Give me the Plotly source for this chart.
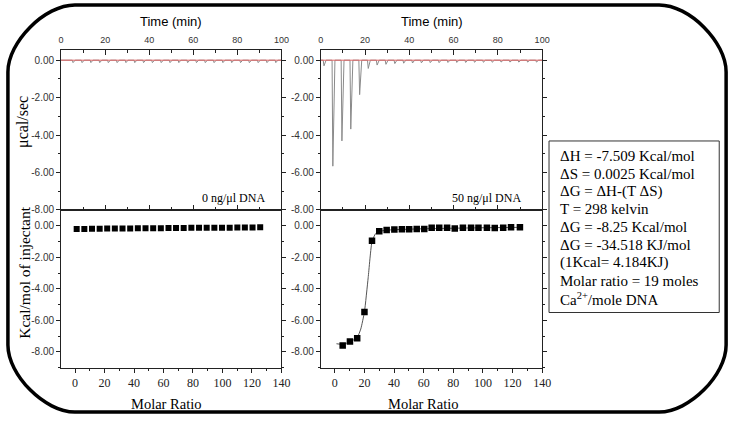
import plotly.graph_objects as go

W, H = 742, 424

# ---------------- data ----------------
inj_time = [1.1, 5.1, 9.2, 13.2, 17.2, 21.1, 25.1, 29.1, 33.1, 37.1, 41.1, 45.1, 49.1,
            53.1, 57.1, 61.1, 65.1, 69.1, 73.1, 77.1, 81.1, 85.1, 89.1, 93.1, 97.1]
peak_0 = [-0.03, -0.13, -0.13, -0.13, -0.13, -0.13, -0.13, -0.13, -0.13, -0.13, -0.13, -0.13, -0.13,
          -0.13, -0.13, -0.13, -0.13, -0.13, -0.13, -0.13, -0.13, -0.13, -0.13, -0.13, -0.13]
peak_50 = [-0.30, -5.66, -4.31, -3.68, -1.84, -0.44, -0.26, -0.22, -0.18, -0.16, -0.15, -0.14, -0.13,
           -0.13, -0.12, -0.12, -0.12, -0.11, -0.11, -0.11, -0.10, -0.10, -0.10, -0.10, -0.10]
baseline_time = [0, 100]
baseline_val = [0, 0]

ratio_0 = [1.1, 6.3, 11.5, 16.7, 21.8, 27.0, 32.2, 37.4, 42.6, 47.8, 53.0, 58.2, 63.4,
           68.5, 73.7, 78.9, 84.1, 89.3, 94.5, 99.7, 104.9, 110.1, 115.2, 120.4, 125.6]
heat_0 = [-0.21, -0.20, -0.19, -0.19, -0.18, -0.18, -0.17, -0.17, -0.16, -0.16, -0.15, -0.15, -0.14,
          -0.14, -0.14, -0.13, -0.13, -0.13, -0.12, -0.12, -0.12, -0.11, -0.11, -0.11, -0.10]

ratio_50 = [5.3, 10.2, 15.1, 20.0, 25.1, 30.0, 35.0, 40.2, 45.3, 50.2, 55.3, 60.4,
            65.4, 70.5, 75.8, 81.0, 86.5, 92.0, 97.0, 102.7, 108.0, 113.7, 119.0, 125.0]
heat_50 = [-7.59, -7.34, -7.13, -5.46, -0.95, -0.35, -0.27, -0.24, -0.22, -0.22, -0.20, -0.20,
           -0.12, -0.12, -0.12, -0.18, -0.12, -0.12, -0.12, -0.12, -0.14, -0.12, -0.10, -0.10]

fit_x = [1.1, 5.3, 10.2, 15.1, 17.5, 20.0, 22.5, 25.1, 27.5, 30.0, 35.0, 40.2, 60.0, 90.0, 125.0]
fit_y = [-7.48, -7.52, -7.36, -7.08, -6.55, -5.45, -3.3, -1.0, -0.5, -0.36, -0.28, -0.25, -0.19, -0.14, -0.10]

y_tick_vals = [0, -2, -4, -6, -8]
y_tick_text = ["0.00", "-2.00", "-4.00", "-6.00", "-8.00"]
time_tick_vals = [0, 20, 40, 60, 80, 100]
ratio_tick_vals = [0, 20, 40, 60, 80, 100, 120, 140]

box_lines = ["ΔH = -7.509 Kcal/mol", "ΔS = 0.0025 Kcal/mol", "ΔG = ΔH-(T ΔS)", "T = 298 kelvin",
             "ΔG = -8.25 Kcal/mol", "ΔG = -34.518 KJ/mol", "(1Kcal= 4.184KJ)",
             "Molar ratio = 19 moles", "Ca<sup>2+</sup>/mole DNA"]

# ---------------- helpers ----------------
def px(x):
    return x / W

def py(y):
    return 1 - y / H

def thermogram(times, peaks):
    xs, ys = [0], [0]
    for t, d in zip(times, peaks):
        xs += [t, t + 0.35, t + 1.3]
        ys += [0, d, 0]
    xs.append(100)
    ys.append(0)
    return xs, ys

SANS = "Liberation Sans, Arial, sans-serif"
SERIF = "Liberation Serif, Times New Roman, serif"

fig = go.Figure()

# top panels (thermograms)
for i, peaks in enumerate([peak_0, peak_50]):
    xa = "x" if i == 0 else "x3"
    ya = "y" if i == 0 else "y3"
    tx, ty = thermogram(inj_time, peaks)
    fig.add_trace(go.Scatter(x=tx, y=ty, mode="lines", line=dict(color="#8a8a8a", width=1),
                             xaxis=xa, yaxis=ya, showlegend=False))
    fig.add_trace(go.Scatter(x=baseline_time, y=baseline_val, mode="lines",
                             line=dict(color="#e06666", width=1),
                             xaxis=xa, yaxis=ya, showlegend=False))

# bottom panels (integrated heats)
fig.add_trace(go.Scatter(x=ratio_0, y=heat_0, mode="markers",
                         marker=dict(symbol="square", size=6, color="black"),
                         xaxis="x2", yaxis="y2", showlegend=False))
fig.add_trace(go.Scatter(x=fit_x, y=fit_y, mode="lines", line=dict(color="#555555", width=1, shape="spline", smoothing=0.5),
                         xaxis="x4", yaxis="y4", showlegend=False))
fig.add_trace(go.Scatter(x=ratio_50, y=heat_50, mode="markers",
                         marker=dict(symbol="square", size=6.5, color="black"),
                         xaxis="x4", yaxis="y4", showlegend=False))

xl = [px(59), px(283)]
xr = [px(323), px(548)]
ytop = [py(213), py(51)]
ybot = [py(373), py(213)]

common_line = dict(showline=True, linecolor="#222", linewidth=1, showgrid=False, zeroline=False)

def time_axis(domain, anchor):
    return dict(domain=domain, anchor=anchor, side="top", range=[0, 100],
                tickvals=time_tick_vals, ticks="inside", ticklen=5, tickcolor="#222",
                minor=dict(dtick=10, tick0=0, ticks="inside", ticklen=3, tickcolor="#222", showgrid=False),
                mirror="ticks", tickfont=dict(family=SANS, size=9, color="#333"),
                ticklabelstandoff=3, **common_line)

def ratio_axis(domain, anchor):
    return dict(domain=domain, anchor=anchor, side="bottom", range=[-9.5, 140],
                tickvals=ratio_tick_vals, ticks="outside", ticklen=4, tickcolor="#222",
                minor=dict(dtick=10, tick0=0, ticks="outside", ticklen=2, tickcolor="#222", showgrid=False),
                mirror=True, tickfont=dict(family=SERIF, size=12, color="#222"), **common_line)

def y_axis(domain, anchor, rng):
    return dict(domain=domain, anchor=anchor, range=rng, tickvals=y_tick_vals, ticktext=y_tick_text,
                ticks="outside", ticklen=4, tickcolor="#222",
                minor=dict(dtick=1, tick0=0, ticks="outside", ticklen=2, tickcolor="#222", showgrid=False),
                mirror="ticks", tickfont=dict(family=SANS, size=10, color="#333"), **common_line)

fig.update_layout(
    width=W, height=H, margin=dict(l=0, r=0, t=0, b=0), autosize=False,
    paper_bgcolor="white", plot_bgcolor="white",
    xaxis=time_axis(xl, "y"), yaxis=y_axis(ytop, "x", [-8, 0.53]),
    xaxis2=ratio_axis(xl, "y2"), yaxis2=y_axis(ybot, "x2", [-9, 1]),
    xaxis3=time_axis(xr, "y3"), yaxis3=y_axis(ytop, "x3", [-8, 0.53]),
    xaxis4=ratio_axis(xr, "y4"), yaxis4=y_axis(ybot, "x4", [-9, 1]),
)

ann = []
def add_text(text, x, y, size, family, xanchor="center", angle=0, color="black"):
    ann.append(dict(text=text, x=px(x), y=py(y), xref="paper", yref="paper", showarrow=False,
                    xanchor=xanchor, yanchor="middle", textangle=angle,
                    font=dict(family=family, size=size, color=color)))

add_text("Time (min)", 171, 22, 13, SANS)
add_text("Time (min)", 436, 22, 13, SANS)
add_text("μcal/sec", 21, 124, 16, SERIF, angle=-90)
add_text("Kcal/mol of injectant", 21, 277, 15.5, SERIF, angle=-90)
add_text("Molar Ratio", 166, 410, 14.5, SERIF)
add_text("Molar Ratio", 427, 410, 14.5, SERIF)
add_text("0 ng/μl DNA", 268, 201, 12, SERIF, xanchor="right")
add_text("50 ng/μl DNA", 529, 201, 12, SERIF, xanchor="right")
for k, line in enumerate(box_lines):
    add_text(line, 564, 158 + k * 18.1, 15, SERIF, xanchor="left")
fig.update_layout(annotations=ann)

# outer rounded border and info box
L, R, T, B, r = 5, 735, 5, 418, 68
c = 0.448 * r
def P(x, y):
    return f"{px(x):.5f},{py(y):.5f}"
path = (f"M {P(L + r, T)} L {P(R - r, T)} C {P(R - r + c, T)} {P(R, T + r - c)} {P(R, T + r)} "
        f"L {P(R, B - r)} C {P(R, B - r + c)} {P(R - r + c, B)} {P(R - r, B)} "
        f"L {P(L + r, B)} C {P(L + r - c, B)} {P(L, B - r + c)} {P(L, B - r)} "
        f"L {P(L, T + r)} C {P(L, T + r - c)} {P(L + r - c, T)} {P(L + r, T)} Z")
fig.update_layout(shapes=[
    dict(type="path", path=path, xref="paper", yref="paper", line=dict(color="black", width=3.5)),
    dict(type="rect", x0=px(555), x1=px(728), y0=py(317), y1=py(143), xref="paper", yref="paper",
         line=dict(color="#333", width=1)),
])

fig.write_html("out.html", config={"responsive": False, "displayModeBar": False},
               post_script="document.body.style.margin='0px';document.body.style.overflow='hidden';")
